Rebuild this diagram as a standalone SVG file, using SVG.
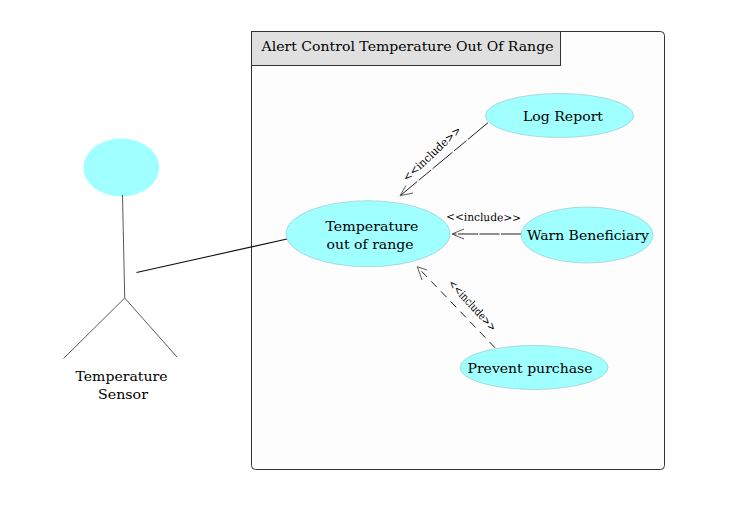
<svg xmlns="http://www.w3.org/2000/svg" width="745" height="525" viewBox="0 0 745 525">
<style>
text{font-family:"DejaVu Serif","Liberation Serif",serif;font-size:13.5px;fill:#000;text-anchor:middle}
.uc{fill:#a0ffff;stroke:#9cc;stroke-width:.7}
.inc{font-size:11px;fill:#000}
.dep{fill:none;stroke:#222;stroke-width:1}
.head{fill:none;stroke:#333;stroke-width:.8}
.stick{fill:none;stroke:#444;stroke-width:.9}
</style>
<rect width="745" height="525" fill="#fff"/>
<g id="system">
<rect x="251.500" y="31.500" width="413" height="438" rx="4" fill="#fdfdfd" stroke="#333" stroke-width="1"/>
<rect x="251.500" y="31.500" width="309" height="34" fill="#e0e0e0" stroke="#333" stroke-width="1"/>
<text x="407.500" y="51" textLength="292" lengthAdjust="spacingAndGlyphs">Alert Control Temperature Out Of Range</text>
</g>
<g id="connectors">
<path d="M136.500 272.500L287 239" fill="none" stroke="#111" stroke-width="1.100"/>
<path class="dep" d="M488 122.700L401 195" stroke-dasharray="26 2 16 2"/>
<path class="head" d="M413 193L400 195.700L406 185.500"/>
<path class="dep" d="M521 234H453" stroke-dasharray="20 1.500"/>
<path class="head" d="M464 229L452 234L464 239"/>
<path class="dep" d="M495 347.700L418 267.500" stroke-dasharray="8 6"/>
<path class="head" d="M427 270L417.300 266.700L422 280"/>
<text class="inc" transform="translate(434.500 156.500) rotate(-43)" textLength="75" lengthAdjust="spacingAndGlyphs">&lt;&lt;include&gt;&gt;</text>
<text class="inc" transform="translate(483.500 221) rotate(1)" textLength="75" lengthAdjust="spacingAndGlyphs">&lt;&lt;include&gt;&gt;</text>
<text class="inc" transform="translate(469.800 308) rotate(47.500)" textLength="65" lengthAdjust="spacingAndGlyphs">&lt;&lt;include&gt;&gt;</text>
</g>
<g id="actor">
<ellipse cx="121.300" cy="167.500" rx="38" ry="29" fill="#a0ffff"/>
<path class="stick" d="M122.500 195L124.700 298M63.500 358.500L124.700 298L177 357"/>
<text x="121.500" y="381" textLength="92" lengthAdjust="spacingAndGlyphs">Temperature</text>
<text x="123" y="399" textLength="50" lengthAdjust="spacingAndGlyphs">Sensor</text>
</g>
<g id="uc-range">
<ellipse class="uc" cx="368" cy="233.700" rx="82" ry="33"/>
<text x="372" y="231" textLength="93" lengthAdjust="spacingAndGlyphs">Temperature</text>
<text x="370" y="249" textLength="87" lengthAdjust="spacingAndGlyphs">out of range</text>
</g>
<g id="uc-log">
<ellipse class="uc" cx="559.500" cy="115.500" rx="74" ry="22"/>
<text x="563" y="121" textLength="80" lengthAdjust="spacingAndGlyphs">Log Report</text>
</g>
<g id="uc-warn">
<ellipse class="uc" cx="587" cy="235" rx="66" ry="28"/>
<text x="588" y="240" textLength="122" lengthAdjust="spacingAndGlyphs">Warn Beneficiary</text>
</g>
<g id="uc-prevent">
<ellipse class="uc" cx="534" cy="367.500" rx="74" ry="22"/>
<text x="530" y="373" textLength="125" lengthAdjust="spacingAndGlyphs">Prevent purchase</text>
</g>
</svg>
